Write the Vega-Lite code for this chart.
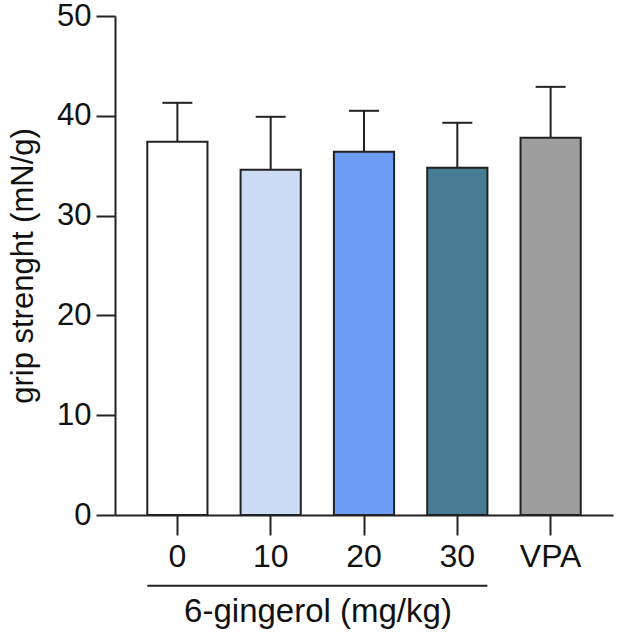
{
  "$schema": "https://vega.github.io/schema/vega-lite/v6.json",
  "width": 498,
  "height": 499,
  "autosize": "none",
  "padding": {"left": 115, "top": 16, "right": 4, "bottom": 119},
  "background": "white",
  "config": {
    "view": {"stroke": null},
    "font": "Liberation Sans",
    "axis": {"grid": false, "domainColor": "#222", "tickColor": "#222", "domainWidth": 2, "tickWidth": 2, "labelColor": "#111", "titleColor": "#111", "labelFont": "Liberation Sans", "titleFont": "Liberation Sans"}
  },
  "data": {
    "values": [
      {"group": "0", "mean": 37.4, "upper": 41.3, "color": "#ffffff"},
      {"group": "10", "mean": 34.6, "upper": 39.9, "color": "#cddcf5"},
      {"group": "20", "mean": 36.4, "upper": 40.5, "color": "#6d9df4"},
      {"group": "30", "mean": 34.8, "upper": 39.3, "color": "#467c94"},
      {"group": "VPA", "mean": 37.8, "upper": 42.9, "color": "#9e9e9e"}
    ]
  },
  "encoding": {
    "x": {
      "field": "group",
      "type": "nominal",
      "sort": null,
      "scale": {"paddingInner": 0.355, "paddingOuter": 0.346},
      "axis": {"title": null, "labelAngle": 0, "labelFontSize": 32, "tickSize": 20, "labelPadding": 6}
    }
  },
  "layer": [
    {
      "mark": {"type": "rule", "strokeWidth": 2, "color": "#222"},
      "encoding": {
        "y": {"field": "mean", "type": "quantitative"},
        "y2": {"field": "upper"}
      }
    },
    {
      "mark": {"type": "tick", "orient": "horizontal", "size": 30, "thickness": 2, "color": "#222", "opacity": 1},
      "encoding": {
        "y": {"field": "upper", "type": "quantitative"}
      }
    },
    {
      "mark": {"type": "bar", "stroke": "#222", "strokeWidth": 2},
      "encoding": {
        "y": {
          "field": "mean",
          "type": "quantitative",
          "scale": {"domain": [0, 50], "nice": false},
          "axis": {"title": "grip strenght (mN/g)", "titleFontSize": 31, "titleFontWeight": "normal", "titlePadding": 17, "labelFontSize": 31, "tickSize": 19, "labelPadding": 5, "values": [0, 10, 20, 30, 40, 50]}
        },
        "fill": {"field": "color", "type": "nominal", "scale": null}
      }
    },
    {
      "data": {"values": [{"start": "0", "end": "30", "mid": "20", "pos": -7.1, "tpos": -10.7, "label": "6-gingerol (mg/kg)"}]},
      "layer": [
        {
          "mark": {"type": "rule", "strokeWidth": 2, "color": "#222", "clip": false},
          "encoding": {
            "x": {"field": "start", "type": "nominal", "bandPosition": 0},
            "x2": {"field": "end", "bandPosition": 1},
            "y": {"field": "pos", "type": "quantitative"}
          }
        },
        {
          "mark": {"type": "text", "fontSize": 33, "color": "#111", "baseline": "alphabetic", "dx": -46, "clip": false},
          "encoding": {
            "x": {"field": "mid", "type": "nominal"},
            "y": {"field": "tpos", "type": "quantitative"},
            "text": {"field": "label"}
          }
        }
      ]
    }
  ]
}
